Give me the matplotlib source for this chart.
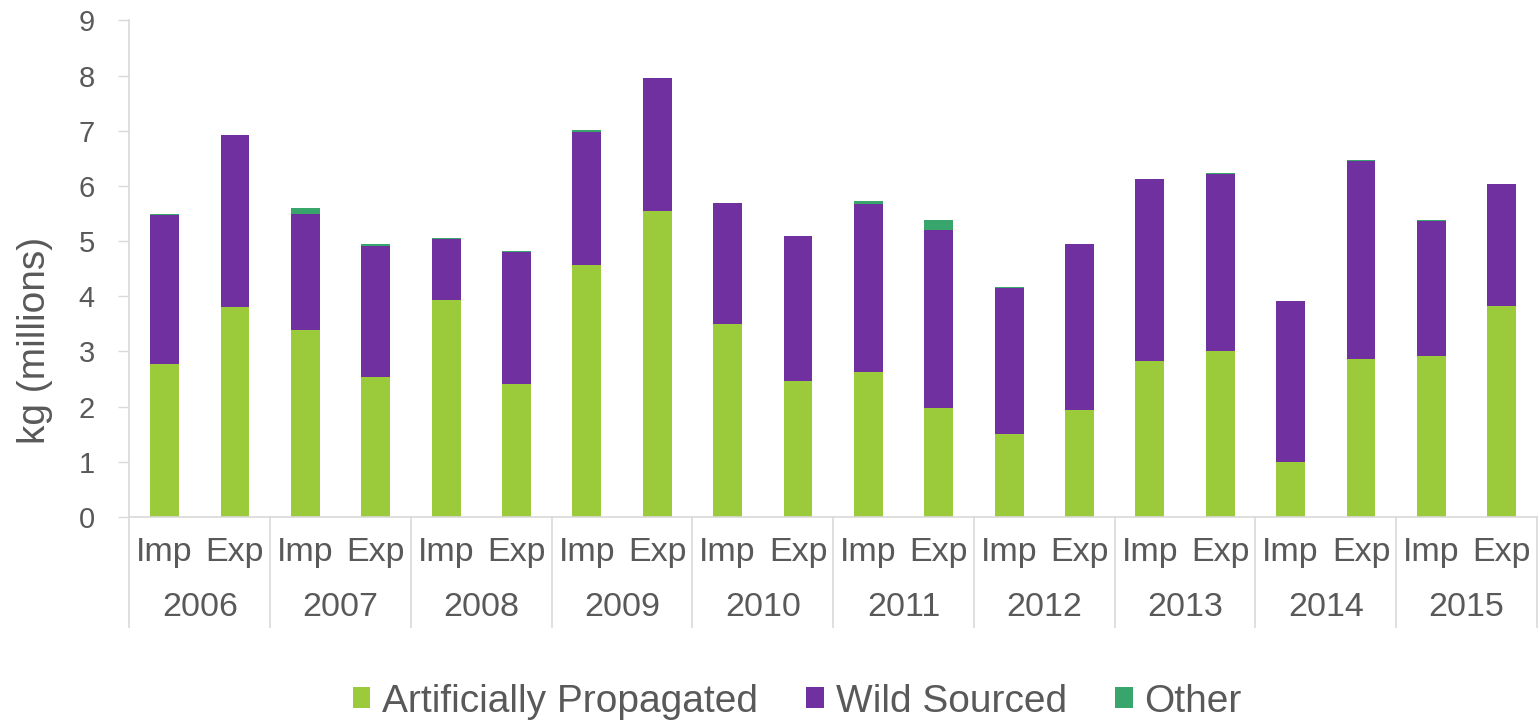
import matplotlib
matplotlib.use("Agg")
import matplotlib.pyplot as plt
import numpy as np

plt.rcParams['font.family'] = ['Liberation Sans', 'DejaVu Sans']

years = ['2006', '2007', '2008', '2009', '2010', '2011', '2012', '2013', '2014', '2015']
flows = ['Imp', 'Exp']

# kg (millions), order: 2006 Imp, 2006 Exp, 2007 Imp, ...
artificial = [2.77, 3.80, 3.39, 2.54, 3.93, 2.41, 4.57, 5.55, 3.49, 2.46,
              2.62, 1.98, 1.50, 1.94, 2.83, 3.00, 0.99, 2.86, 2.92, 3.82]
wild = [2.71, 3.12, 2.10, 2.38, 1.10, 2.40, 2.41, 2.40, 2.20, 2.63,
        3.06, 3.22, 2.65, 3.01, 3.29, 3.22, 2.92, 3.60, 2.45, 2.21]
other = [0.01, 0.01, 0.11, 0.02, 0.03, 0.02, 0.04, 0.01, 0.01, 0.0,
         0.05, 0.19, 0.01, 0.0, 0.01, 0.01, 0.01, 0.01, 0.01, 0.01]

c_art = '#9bcb3b'
c_wild = '#7030a0'
c_oth = '#38a66c'
grey = '#595959'
line = '#d9d9d9'

fig = plt.figure(figsize=(15.39, 7.21), dpi=100)
ax = fig.add_axes([0.0841, 0.283, 0.9146, 0.6886])

x = np.arange(len(artificial))
art = np.array(artificial)
wil = np.array(wild)
oth = np.array(other)
w = 0.41
ax.bar(x, art, w, color=c_art, label='Artificially Propagated')
ax.bar(x, wil, w, bottom=art, color=c_wild, label='Wild Sourced')
ax.bar(x, oth, w, bottom=art + wil, color=c_oth, label='Other')

ax.set_xlim(-0.5, len(x) - 0.5)
ax.set_ylim(0, 9)
ax.set_yticks(range(0, 10))
ax.tick_params(axis='y', length=8, width=1, color=line, labelsize=21,
               labelcolor=grey, pad=17)
ax.set_xticks([])

for s in ['top', 'right']:
    ax.spines[s].set_visible(False)
ax.spines['left'].set_color(line)
ax.spines['bottom'].set_color(line)
ax.spines['left'].set_linewidth(1.2)
ax.spines['bottom'].set_linewidth(1.2)

ax.set_ylabel('kg (millions)', fontsize=28, color=grey)
ax.yaxis.set_label_coords(-0.0545, 0.356)

tr = ax.get_xaxis_transform()
for i, xi in enumerate(x):
    ax.text(xi, -0.0725, flows[i % 2], transform=tr, ha='center', va='center',
            fontsize=24.5, color=grey)
for j, yr in enumerate(years):
    ax.text(2 * j + 0.5, -0.183, yr, transform=tr, ha='center', va='center',
            fontsize=24.5, color=grey)
for k in range(len(years) + 1):
    ax.plot([2 * k - 0.5, 2 * k - 0.5], [0, -0.222], transform=tr,
            color=line, lw=1.2, clip_on=False)

leg = fig.legend(loc='center', bbox_to_anchor=(0.518, 0.027), ncol=3,
                 frameon=False, fontsize=28, handlelength=0.45, handleheight=0.45,
                 handletextpad=0.3, columnspacing=1.25)
for t in leg.get_texts():
    t.set_color(grey)

fig.savefig('out.png', dpi=100)
